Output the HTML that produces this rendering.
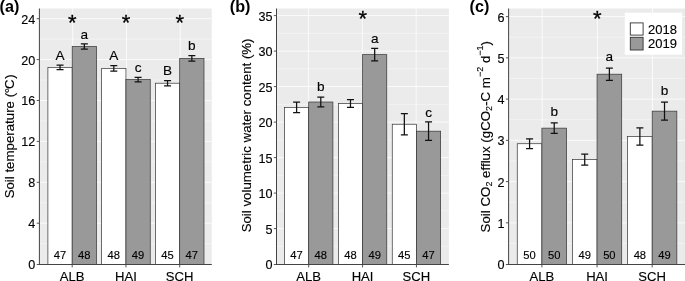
<!DOCTYPE html><html><head><meta charset="utf-8"><style>html,body{margin:0;padding:0;background:#fff;overflow:hidden}svg{display:block}text{stroke:#000;stroke-width:.14px}text.st{stroke-width:.3px}text.pl{stroke:none}</style></head><body><svg width="685" height="281" viewBox="0 0 685 281" font-family="Liberation Sans, sans-serif">
<rect width="685" height="281" fill="#fff"/>
<rect x="39.4" y="8.5" width="172.40" height="256.00" fill="#ebebeb"/>
<line x1="39.4" x2="211.8" y1="243.65" y2="243.65" stroke="#fff" stroke-opacity="0.7" stroke-width="0.6"/>
<line x1="39.4" x2="211.8" y1="202.75" y2="202.75" stroke="#fff" stroke-opacity="0.7" stroke-width="0.6"/>
<line x1="39.4" x2="211.8" y1="161.85" y2="161.85" stroke="#fff" stroke-opacity="0.7" stroke-width="0.6"/>
<line x1="39.4" x2="211.8" y1="120.95" y2="120.95" stroke="#fff" stroke-opacity="0.7" stroke-width="0.6"/>
<line x1="39.4" x2="211.8" y1="80.05" y2="80.05" stroke="#fff" stroke-opacity="0.7" stroke-width="0.6"/>
<line x1="39.4" x2="211.8" y1="39.15" y2="39.15" stroke="#fff" stroke-opacity="0.7" stroke-width="0.6"/>
<line x1="39.4" x2="211.8" y1="223.20" y2="223.20" stroke="#fff" stroke-opacity="0.8" stroke-width="1"/>
<line x1="39.4" x2="211.8" y1="182.30" y2="182.30" stroke="#fff" stroke-opacity="0.8" stroke-width="1"/>
<line x1="39.4" x2="211.8" y1="141.40" y2="141.40" stroke="#fff" stroke-opacity="0.8" stroke-width="1"/>
<line x1="39.4" x2="211.8" y1="100.50" y2="100.50" stroke="#fff" stroke-opacity="0.8" stroke-width="1"/>
<line x1="39.4" x2="211.8" y1="59.60" y2="59.60" stroke="#fff" stroke-opacity="0.8" stroke-width="1"/>
<line x1="39.4" x2="211.8" y1="18.70" y2="18.70" stroke="#fff" stroke-opacity="0.8" stroke-width="1"/>
<line x1="72.70" x2="72.70" y1="8.5" y2="264.5" stroke="#fff" stroke-opacity="0.8" stroke-width="1"/>
<line x1="126.45" x2="126.45" y1="8.5" y2="264.5" stroke="#fff" stroke-opacity="0.8" stroke-width="1"/>
<line x1="180.20" x2="180.20" y1="8.5" y2="264.5" stroke="#fff" stroke-opacity="0.8" stroke-width="1"/>
<rect x="47.90" y="67.37" width="24.30" height="197.13" fill="#fff" stroke="#333" stroke-width="0.7"/>
<rect x="72.20" y="46.51" width="24.30" height="217.99" fill="#999999" stroke="#333" stroke-width="0.7"/>
<path d="M56.55 65.12H63.55M60.05 65.12V69.62M56.55 69.62H63.55" stroke="#111" stroke-width="1.25" fill="none"/>
<text x="60.05" y="59.82" font-size="13.6" text-anchor="middle" fill="#000">A</text>
<text x="60.05" y="259.00" font-size="11.2" text-anchor="middle" fill="#000">47</text>
<path d="M80.85 43.85H87.85M84.35 43.85V49.17M80.85 49.17H87.85" stroke="#111" stroke-width="1.25" fill="none"/>
<text x="84.35" y="38.55" font-size="13.6" text-anchor="middle" fill="#000">a</text>
<text x="84.35" y="259.00" font-size="11.2" text-anchor="middle" fill="#000">48</text>
<rect x="101.65" y="68.39" width="24.30" height="196.11" fill="#fff" stroke="#333" stroke-width="0.7"/>
<rect x="125.95" y="79.54" width="24.30" height="184.96" fill="#999999" stroke="#333" stroke-width="0.7"/>
<path d="M110.30 65.63H117.30M113.80 65.63V71.15M110.30 71.15H117.30" stroke="#111" stroke-width="1.25" fill="none"/>
<text x="113.80" y="60.33" font-size="13.6" text-anchor="middle" fill="#000">A</text>
<text x="113.80" y="259.00" font-size="11.2" text-anchor="middle" fill="#000">48</text>
<path d="M134.60 77.29H141.60M138.10 77.29V81.79M134.60 81.79H141.60" stroke="#111" stroke-width="1.25" fill="none"/>
<text x="138.10" y="71.99" font-size="13.6" text-anchor="middle" fill="#000">c</text>
<text x="138.10" y="259.00" font-size="11.2" text-anchor="middle" fill="#000">49</text>
<rect x="155.40" y="83.22" width="24.30" height="181.28" fill="#fff" stroke="#333" stroke-width="0.7"/>
<rect x="179.70" y="58.37" width="24.30" height="206.13" fill="#999999" stroke="#333" stroke-width="0.7"/>
<path d="M164.05 80.56H171.05M167.55 80.56V85.88M164.05 85.88H171.05" stroke="#111" stroke-width="1.25" fill="none"/>
<text x="167.55" y="75.26" font-size="13.6" text-anchor="middle" fill="#000">B</text>
<text x="167.55" y="259.00" font-size="11.2" text-anchor="middle" fill="#000">45</text>
<path d="M188.35 55.51H195.35M191.85 55.51V61.24M188.35 61.24H195.35" stroke="#111" stroke-width="1.25" fill="none"/>
<text x="191.85" y="50.21" font-size="13.6" text-anchor="middle" fill="#000">b</text>
<text x="191.85" y="259.00" font-size="11.2" text-anchor="middle" fill="#000">47</text>
<text x="72.40" y="30.03" font-size="22" text-anchor="middle" class="st" fill="#000">*</text>
<text x="126.15" y="30.03" font-size="22" text-anchor="middle" class="st" fill="#000">*</text>
<text x="179.90" y="30.03" font-size="22" text-anchor="middle" class="st" fill="#000">*</text>
<line x1="39.4" x2="39.4" y1="8.5" y2="265.0" stroke="#444" stroke-width="1"/>
<line x1="38.9" x2="211.8" y1="264.5" y2="264.5" stroke="#444" stroke-width="1"/>
<line x1="36.699999999999996" x2="39.4" y1="264.50" y2="264.50" stroke="#444" stroke-width="0.9"/>
<text x="35.3" y="269.48" font-size="12.6" text-anchor="end" fill="#000">0</text>
<line x1="36.699999999999996" x2="39.4" y1="223.20" y2="223.20" stroke="#444" stroke-width="0.9"/>
<text x="35.3" y="228.18" font-size="12.6" text-anchor="end" fill="#000">4</text>
<line x1="36.699999999999996" x2="39.4" y1="182.30" y2="182.30" stroke="#444" stroke-width="0.9"/>
<text x="35.3" y="187.28" font-size="12.6" text-anchor="end" fill="#000">8</text>
<line x1="36.699999999999996" x2="39.4" y1="141.40" y2="141.40" stroke="#444" stroke-width="0.9"/>
<text x="35.3" y="146.38" font-size="12.6" text-anchor="end" fill="#000">12</text>
<line x1="36.699999999999996" x2="39.4" y1="100.50" y2="100.50" stroke="#444" stroke-width="0.9"/>
<text x="35.3" y="105.48" font-size="12.6" text-anchor="end" fill="#000">16</text>
<line x1="36.699999999999996" x2="39.4" y1="59.60" y2="59.60" stroke="#444" stroke-width="0.9"/>
<text x="35.3" y="64.58" font-size="12.6" text-anchor="end" fill="#000">20</text>
<line x1="36.699999999999996" x2="39.4" y1="18.70" y2="18.70" stroke="#444" stroke-width="0.9"/>
<text x="35.3" y="23.68" font-size="12.6" text-anchor="end" fill="#000">24</text>
<line x1="72.20" x2="72.20" y1="264.5" y2="267.4" stroke="#444" stroke-width="0.9"/>
<text x="72.20" y="281.00" font-size="13.1" text-anchor="middle" fill="#000">ALB</text>
<line x1="125.95" x2="125.95" y1="264.5" y2="267.4" stroke="#444" stroke-width="0.9"/>
<text x="125.95" y="281.00" font-size="13.1" text-anchor="middle" fill="#000">HAI</text>
<line x1="179.70" x2="179.70" y1="264.5" y2="267.4" stroke="#444" stroke-width="0.9"/>
<text x="179.70" y="281.00" font-size="13.1" text-anchor="middle" fill="#000">SCH</text>
<text x="-0.5" y="11.9" font-size="16.2" font-weight="bold" class="pl" fill="#000">(a)</text>
<text transform="translate(14.3,136.4) rotate(-90)" font-size="13.28" text-anchor="middle" fill="#000">Soil temperature (<tspan dx="-0.4">°</tspan><tspan dx="-0.9">C</tspan><tspan dx="0.5">)</tspan></text>
<rect x="276.5" y="8.5" width="172.40" height="256.00" fill="#ebebeb"/>
<line x1="276.5" x2="448.9" y1="246.35" y2="246.35" stroke="#fff" stroke-opacity="0.7" stroke-width="0.6"/>
<line x1="276.5" x2="448.9" y1="210.85" y2="210.85" stroke="#fff" stroke-opacity="0.7" stroke-width="0.6"/>
<line x1="276.5" x2="448.9" y1="175.35" y2="175.35" stroke="#fff" stroke-opacity="0.7" stroke-width="0.6"/>
<line x1="276.5" x2="448.9" y1="139.85" y2="139.85" stroke="#fff" stroke-opacity="0.7" stroke-width="0.6"/>
<line x1="276.5" x2="448.9" y1="104.35" y2="104.35" stroke="#fff" stroke-opacity="0.7" stroke-width="0.6"/>
<line x1="276.5" x2="448.9" y1="68.85" y2="68.85" stroke="#fff" stroke-opacity="0.7" stroke-width="0.6"/>
<line x1="276.5" x2="448.9" y1="33.35" y2="33.35" stroke="#fff" stroke-opacity="0.7" stroke-width="0.6"/>
<line x1="276.5" x2="448.9" y1="228.60" y2="228.60" stroke="#fff" stroke-opacity="0.8" stroke-width="1"/>
<line x1="276.5" x2="448.9" y1="193.10" y2="193.10" stroke="#fff" stroke-opacity="0.8" stroke-width="1"/>
<line x1="276.5" x2="448.9" y1="157.60" y2="157.60" stroke="#fff" stroke-opacity="0.8" stroke-width="1"/>
<line x1="276.5" x2="448.9" y1="122.10" y2="122.10" stroke="#fff" stroke-opacity="0.8" stroke-width="1"/>
<line x1="276.5" x2="448.9" y1="86.60" y2="86.60" stroke="#fff" stroke-opacity="0.8" stroke-width="1"/>
<line x1="276.5" x2="448.9" y1="51.10" y2="51.10" stroke="#fff" stroke-opacity="0.8" stroke-width="1"/>
<line x1="276.5" x2="448.9" y1="15.60" y2="15.60" stroke="#fff" stroke-opacity="0.8" stroke-width="1"/>
<line x1="308.40" x2="308.40" y1="8.5" y2="264.5" stroke="#fff" stroke-opacity="0.8" stroke-width="1"/>
<line x1="362.27" x2="362.27" y1="8.5" y2="264.5" stroke="#fff" stroke-opacity="0.8" stroke-width="1"/>
<line x1="416.15" x2="416.15" y1="8.5" y2="264.5" stroke="#fff" stroke-opacity="0.8" stroke-width="1"/>
<rect x="284.50" y="107.40" width="24.20" height="157.10" fill="#fff" stroke="#333" stroke-width="0.7"/>
<rect x="308.70" y="102.01" width="24.20" height="162.49" fill="#999999" stroke="#333" stroke-width="0.7"/>
<path d="M293.10 102.08H300.10M296.60 102.08V112.73M293.10 112.73H300.10" stroke="#111" stroke-width="1.25" fill="none"/>
<text x="296.60" y="259.00" font-size="11.2" text-anchor="middle" fill="#000">47</text>
<path d="M317.30 97.18H324.30M320.80 97.18V106.84M317.30 106.84H324.30" stroke="#111" stroke-width="1.25" fill="none"/>
<text x="320.80" y="90.88" font-size="13.6" text-anchor="middle" fill="#000">b</text>
<text x="320.80" y="259.00" font-size="11.2" text-anchor="middle" fill="#000">48</text>
<rect x="338.38" y="103.50" width="24.20" height="161.00" fill="#fff" stroke="#333" stroke-width="0.7"/>
<rect x="362.57" y="54.65" width="24.20" height="209.85" fill="#999999" stroke="#333" stroke-width="0.7"/>
<path d="M346.98 99.66H353.98M350.48 99.66V107.33M346.98 107.33H353.98" stroke="#111" stroke-width="1.25" fill="none"/>
<text x="350.48" y="259.00" font-size="11.2" text-anchor="middle" fill="#000">48</text>
<path d="M371.18 48.40H378.18M374.68 48.40V60.90M371.18 60.90H378.18" stroke="#111" stroke-width="1.25" fill="none"/>
<text x="374.68" y="42.80" font-size="13.6" text-anchor="middle" fill="#000">a</text>
<text x="374.68" y="259.00" font-size="11.2" text-anchor="middle" fill="#000">49</text>
<rect x="392.25" y="124.23" width="24.20" height="140.27" fill="#fff" stroke="#333" stroke-width="0.7"/>
<rect x="416.45" y="131.19" width="24.20" height="133.31" fill="#999999" stroke="#333" stroke-width="0.7"/>
<path d="M400.85 113.58H407.85M404.35 113.58V134.88M400.85 134.88H407.85" stroke="#111" stroke-width="1.25" fill="none"/>
<text x="404.35" y="259.00" font-size="11.2" text-anchor="middle" fill="#000">45</text>
<path d="M425.05 121.96H432.05M428.55 121.96V140.42M425.05 140.42H432.05" stroke="#111" stroke-width="1.25" fill="none"/>
<text x="428.55" y="116.66" font-size="13.6" text-anchor="middle" fill="#000">c</text>
<text x="428.55" y="259.00" font-size="11.2" text-anchor="middle" fill="#000">47</text>
<text x="362.77" y="25.73" font-size="22" text-anchor="middle" class="st" fill="#000">*</text>
<line x1="276.5" x2="276.5" y1="8.5" y2="265.0" stroke="#444" stroke-width="1"/>
<line x1="276.0" x2="448.9" y1="264.5" y2="264.5" stroke="#444" stroke-width="1"/>
<line x1="273.8" x2="276.5" y1="264.50" y2="264.50" stroke="#444" stroke-width="0.9"/>
<text x="272.4" y="269.48" font-size="12.6" text-anchor="end" fill="#000">0</text>
<line x1="273.8" x2="276.5" y1="228.60" y2="228.60" stroke="#444" stroke-width="0.9"/>
<text x="272.4" y="233.58" font-size="12.6" text-anchor="end" fill="#000">5</text>
<line x1="273.8" x2="276.5" y1="193.10" y2="193.10" stroke="#444" stroke-width="0.9"/>
<text x="272.4" y="198.08" font-size="12.6" text-anchor="end" fill="#000">10</text>
<line x1="273.8" x2="276.5" y1="157.60" y2="157.60" stroke="#444" stroke-width="0.9"/>
<text x="272.4" y="162.58" font-size="12.6" text-anchor="end" fill="#000">15</text>
<line x1="273.8" x2="276.5" y1="122.10" y2="122.10" stroke="#444" stroke-width="0.9"/>
<text x="272.4" y="127.08" font-size="12.6" text-anchor="end" fill="#000">20</text>
<line x1="273.8" x2="276.5" y1="86.60" y2="86.60" stroke="#444" stroke-width="0.9"/>
<text x="272.4" y="91.58" font-size="12.6" text-anchor="end" fill="#000">25</text>
<line x1="273.8" x2="276.5" y1="51.10" y2="51.10" stroke="#444" stroke-width="0.9"/>
<text x="272.4" y="56.08" font-size="12.6" text-anchor="end" fill="#000">30</text>
<line x1="273.8" x2="276.5" y1="15.60" y2="15.60" stroke="#444" stroke-width="0.9"/>
<text x="272.4" y="20.58" font-size="12.6" text-anchor="end" fill="#000">35</text>
<line x1="308.70" x2="308.70" y1="264.5" y2="267.4" stroke="#444" stroke-width="0.9"/>
<text x="308.70" y="281.00" font-size="13.1" text-anchor="middle" fill="#000">ALB</text>
<line x1="362.57" x2="362.57" y1="264.5" y2="267.4" stroke="#444" stroke-width="0.9"/>
<text x="362.57" y="281.00" font-size="13.1" text-anchor="middle" fill="#000">HAI</text>
<line x1="416.45" x2="416.45" y1="264.5" y2="267.4" stroke="#444" stroke-width="0.9"/>
<text x="416.45" y="281.00" font-size="13.1" text-anchor="middle" fill="#000">SCH</text>
<text x="229.8" y="11.9" font-size="16.2" font-weight="bold" class="pl" fill="#000">(b)</text>
<text transform="translate(250.6,135.4) rotate(-90)" font-size="13.28" text-anchor="middle" fill="#000">Soil volumetric water content (%)</text>
<rect x="508.6" y="8.5" width="176.70" height="256.00" fill="#ebebeb"/>
<line x1="508.6" x2="685.3" y1="243.48" y2="243.48" stroke="#fff" stroke-opacity="0.7" stroke-width="0.6"/>
<line x1="508.6" x2="685.3" y1="202.23" y2="202.23" stroke="#fff" stroke-opacity="0.7" stroke-width="0.6"/>
<line x1="508.6" x2="685.3" y1="160.98" y2="160.98" stroke="#fff" stroke-opacity="0.7" stroke-width="0.6"/>
<line x1="508.6" x2="685.3" y1="119.73" y2="119.73" stroke="#fff" stroke-opacity="0.7" stroke-width="0.6"/>
<line x1="508.6" x2="685.3" y1="78.48" y2="78.48" stroke="#fff" stroke-opacity="0.7" stroke-width="0.6"/>
<line x1="508.6" x2="685.3" y1="37.23" y2="37.23" stroke="#fff" stroke-opacity="0.7" stroke-width="0.6"/>
<line x1="508.6" x2="685.3" y1="222.85" y2="222.85" stroke="#fff" stroke-opacity="0.8" stroke-width="1"/>
<line x1="508.6" x2="685.3" y1="181.60" y2="181.60" stroke="#fff" stroke-opacity="0.8" stroke-width="1"/>
<line x1="508.6" x2="685.3" y1="140.35" y2="140.35" stroke="#fff" stroke-opacity="0.8" stroke-width="1"/>
<line x1="508.6" x2="685.3" y1="99.10" y2="99.10" stroke="#fff" stroke-opacity="0.8" stroke-width="1"/>
<line x1="508.6" x2="685.3" y1="57.85" y2="57.85" stroke="#fff" stroke-opacity="0.8" stroke-width="1"/>
<line x1="508.6" x2="685.3" y1="16.60" y2="16.60" stroke="#fff" stroke-opacity="0.8" stroke-width="1"/>
<line x1="542.20" x2="542.20" y1="8.5" y2="264.5" stroke="#fff" stroke-opacity="0.8" stroke-width="1"/>
<line x1="597.35" x2="597.35" y1="8.5" y2="264.5" stroke="#fff" stroke-opacity="0.8" stroke-width="1"/>
<line x1="652.50" x2="652.50" y1="8.5" y2="264.5" stroke="#fff" stroke-opacity="0.8" stroke-width="1"/>
<rect x="517.25" y="143.73" width="24.65" height="120.77" fill="#fff" stroke="#333" stroke-width="0.7"/>
<rect x="541.90" y="128.14" width="24.65" height="136.36" fill="#999999" stroke="#333" stroke-width="0.7"/>
<path d="M526.08 138.78H533.08M529.58 138.78V148.68M526.08 148.68H533.08" stroke="#111" stroke-width="1.25" fill="none"/>
<text x="529.58" y="259.00" font-size="11.2" text-anchor="middle" fill="#000">50</text>
<path d="M550.73 122.86H557.73M554.23 122.86V133.42M550.73 133.42H557.73" stroke="#111" stroke-width="1.25" fill="none"/>
<text x="554.23" y="115.76" font-size="13.6" text-anchor="middle" fill="#000">b</text>
<text x="554.23" y="259.00" font-size="11.2" text-anchor="middle" fill="#000">50</text>
<rect x="572.40" y="159.57" width="24.65" height="104.93" fill="#fff" stroke="#333" stroke-width="0.7"/>
<rect x="597.05" y="74.19" width="24.65" height="190.31" fill="#999999" stroke="#333" stroke-width="0.7"/>
<path d="M581.23 154.09H588.23M584.73 154.09V165.06M581.23 165.06H588.23" stroke="#111" stroke-width="1.25" fill="none"/>
<text x="584.73" y="259.00" font-size="11.2" text-anchor="middle" fill="#000">49</text>
<path d="M605.88 68.00H612.88M609.38 68.00V80.37M605.88 80.37H612.88" stroke="#111" stroke-width="1.25" fill="none"/>
<text x="609.38" y="60.90" font-size="13.6" text-anchor="middle" fill="#000">a</text>
<text x="609.38" y="259.00" font-size="11.2" text-anchor="middle" fill="#000">50</text>
<rect x="627.55" y="136.56" width="24.65" height="127.94" fill="#fff" stroke="#333" stroke-width="0.7"/>
<rect x="652.20" y="111.15" width="24.65" height="153.35" fill="#999999" stroke="#333" stroke-width="0.7"/>
<path d="M636.38 127.89H643.38M639.88 127.89V145.22M636.38 145.22H643.38" stroke="#111" stroke-width="1.25" fill="none"/>
<text x="639.88" y="259.00" font-size="11.2" text-anchor="middle" fill="#000">48</text>
<path d="M661.02 102.07H668.02M664.52 102.07V120.22M661.02 120.22H668.02" stroke="#111" stroke-width="1.25" fill="none"/>
<text x="664.52" y="94.97" font-size="13.6" text-anchor="middle" fill="#000">b</text>
<text x="664.52" y="259.00" font-size="11.2" text-anchor="middle" fill="#000">49</text>
<text x="597.25" y="25.73" font-size="22" text-anchor="middle" class="st" fill="#000">*</text>
<line x1="508.6" x2="508.6" y1="8.5" y2="265.0" stroke="#444" stroke-width="1"/>
<line x1="508.1" x2="685.3" y1="264.5" y2="264.5" stroke="#444" stroke-width="1"/>
<line x1="505.90000000000003" x2="508.6" y1="264.50" y2="264.50" stroke="#444" stroke-width="0.9"/>
<text x="504.5" y="269.48" font-size="12.6" text-anchor="end" fill="#000">0</text>
<line x1="505.90000000000003" x2="508.6" y1="222.85" y2="222.85" stroke="#444" stroke-width="0.9"/>
<text x="504.5" y="227.83" font-size="12.6" text-anchor="end" fill="#000">1</text>
<line x1="505.90000000000003" x2="508.6" y1="181.60" y2="181.60" stroke="#444" stroke-width="0.9"/>
<text x="504.5" y="186.58" font-size="12.6" text-anchor="end" fill="#000">2</text>
<line x1="505.90000000000003" x2="508.6" y1="140.35" y2="140.35" stroke="#444" stroke-width="0.9"/>
<text x="504.5" y="145.33" font-size="12.6" text-anchor="end" fill="#000">3</text>
<line x1="505.90000000000003" x2="508.6" y1="99.10" y2="99.10" stroke="#444" stroke-width="0.9"/>
<text x="504.5" y="104.08" font-size="12.6" text-anchor="end" fill="#000">4</text>
<line x1="505.90000000000003" x2="508.6" y1="57.85" y2="57.85" stroke="#444" stroke-width="0.9"/>
<text x="504.5" y="62.83" font-size="12.6" text-anchor="end" fill="#000">5</text>
<line x1="505.90000000000003" x2="508.6" y1="16.60" y2="16.60" stroke="#444" stroke-width="0.9"/>
<text x="504.5" y="21.58" font-size="12.6" text-anchor="end" fill="#000">6</text>
<line x1="541.90" x2="541.90" y1="264.5" y2="267.4" stroke="#444" stroke-width="0.9"/>
<text x="541.90" y="281.00" font-size="13.1" text-anchor="middle" fill="#000">ALB</text>
<line x1="597.05" x2="597.05" y1="264.5" y2="267.4" stroke="#444" stroke-width="0.9"/>
<text x="597.05" y="281.00" font-size="13.1" text-anchor="middle" fill="#000">HAI</text>
<line x1="652.20" x2="652.20" y1="264.5" y2="267.4" stroke="#444" stroke-width="0.9"/>
<text x="652.20" y="281.00" font-size="13.1" text-anchor="middle" fill="#000">SCH</text>
<text x="469.6" y="11.9" font-size="16.2" font-weight="bold" class="pl" fill="#000">(c)</text>
<text transform="translate(489.8,136.7) rotate(-90)" font-size="13.3" text-anchor="middle" fill="#000">Soil CO<tspan font-size="9" dy="2.5">2</tspan><tspan dy="-2.5"> efflux (gCO</tspan><tspan font-size="9" dy="2.5">2</tspan><tspan dy="-2.5">-C m</tspan><tspan font-size="9" dy="-7.2">−2</tspan><tspan dy="7.2"> d</tspan><tspan font-size="9" dy="-7.2">−1</tspan><tspan dy="7.2">)</tspan></text>
<rect x="624.8" y="12.7" width="57.3" height="42" fill="#fff"/>
<rect x="630.3" y="22.9" width="12.8" height="12.2" fill="#fff" stroke="#333" stroke-width="0.9"/>
<rect x="630.3" y="37.3" width="12.8" height="12.7" fill="#999999" stroke="#333" stroke-width="0.9"/>
<text x="648.1" y="34.4" font-size="13.0" fill="#000">2018</text>
<text x="648.1" y="48.1" font-size="13.0" fill="#000">2019</text>
</svg></body></html>
